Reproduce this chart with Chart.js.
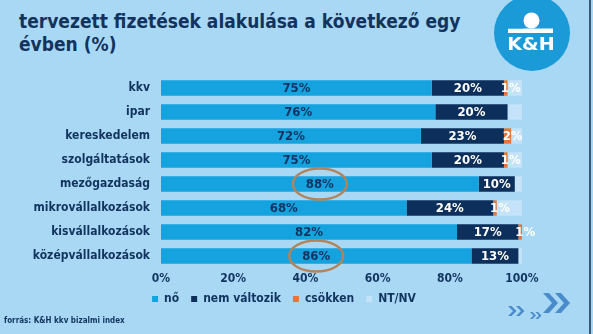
<!DOCTYPE html>
<html lang="hu">
<head>
<meta charset="UTF-8">
<title>tervezett fizetések alakulása</title>
<style>
  body { margin: 0; width: 593px; height: 334px; overflow: hidden; position: relative;
         background: #a8d8f4; color: #13335f; font-family: "DejaVu Sans Condensed", "DejaVu Sans", sans-serif; }
  .cim { position: absolute; left: 19px; top: 10px; font-size: 19px; line-height: 23px; font-weight: bold; }
  .forras { position: absolute; left: 4px; top: 316px; font-size: 8px; font-weight: bold; }
  .keret { position: absolute; left: 589px; top: 0; width: 2px; height: 334px; background: #3b5877; }
  #grafikon { position: absolute; left: 0; top: 0; }
</style>
</head>
<body>
<div class="cim">tervezett fizetések alakulása a következő egy<br>évben (%)</div>
<canvas id="grafikon" width="593" height="334"></canvas>
<div class="forras">forrás: K&amp;H kkv bizalmi index</div>
<div class="keret"></div>

<script src="https://cdn.jsdelivr.net/npm/chart.js"></script>
<script>
const kategoriak = ['kkv', 'ipar', 'kereskedelem', 'szolgáltatások', 'mezőgazdaság',
                    'mikrovállalkozások', 'kisvállalkozások', 'középvállalkozások'];
const no = [75, 76, 72, 75, 88, 68, 82, 86];
const nemValtozik = [20, 20, 23, 20, 10, 24, 17, 13];
const csokken = [1, 0, 2, 1, 0, 1, 1, 0];
const ntnv = [4, 4, 3, 4, 2, 7, 0, 1];
const tickek = [0, 20, 40, 60, 80, 100];
// bekarikázott sorok
const kiemelt = ['mezőgazdaság', 'középvállalkozások'];

const sotet = '#13335f';
Chart.defaults.font.family = '"DejaVu Sans Condensed", "DejaVu Sans", sans-serif';
Chart.defaults.font.weight = 'bold';

// százalékok a szakaszok közepén + karikák
const cimkek = {
  id: 'cimkek',
  afterDatasetsDraw(chart) {
    const c = chart.ctx;
    c.save();
    c.font = 'bold 13px "DejaVu Sans Condensed", "DejaVu Sans"';
    c.textAlign = 'center';
    c.textBaseline = 'middle';
    [0, 1, 2].forEach(d => {
      chart.getDatasetMeta(d).data.forEach((bar, i) => {
        const v = chart.data.datasets[d].data[i];
        if (!v) return;
        const x = (bar.x + bar.base) / 2 + (d === 2 ? 5 : 0);
        c.fillStyle = d === 0 ? sotet : '#ffffff';
        c.fillText(v + '%', x, bar.y + 1);
      });
    });
    c.strokeStyle = '#b3835a';
    c.lineWidth = 2.5;
    kiemelt.forEach(nev => {
      const bar = chart.getDatasetMeta(0).data[kategoriak.indexOf(nev)];
      c.beginPath();
      c.ellipse((bar.x + bar.base) / 2, bar.y, 27, 15.5, 0, 0, Math.PI * 2);
      c.stroke();
    });
    c.restore();
  }
};

// jelmagyarázat helye
const jelmagyarazat = {
  id: 'jelmagyarazat',
  afterLayout(chart) {
    const lg = chart.legend;
    const dx = 284 - (lg.left + lg.right) / 2;
    lg.left += dx; lg.right += dx;
    const top = 299 - lg.options.labels.padding - 6;
    lg.bottom += top - lg.top; lg.top = top;
  }
};

function chevron(c, x, y, h, w, t) {
  c.beginPath();
  c.moveTo(x, y); c.lineTo(x + t, y); c.lineTo(x + t + w, y + h / 2);
  c.lineTo(x + t, y + h); c.lineTo(x, y + h); c.lineTo(x + w, y + h / 2);
  c.closePath(); c.fill();
}

// logó és nyilak
const dekor = {
  id: 'dekor',
  afterDraw(chart) {
    const c = chart.ctx;
    c.save();
    c.fillStyle = '#1b9ad8';
    c.beginPath(); c.arc(532, 33, 38, 0, Math.PI * 2); c.fill();
    c.fillStyle = '#ffffff';
    c.beginPath(); c.arc(531.5, 20.5, 8, 0, Math.PI * 2); c.fill();
    c.fillRect(508, 28.5, 45, 4.5);
    c.fillStyle = '#1b9ad8';
    c.fillRect(508, 26.5, 15, 2);
    c.fillStyle = '#ffffff';
    c.font = 'bold 17px "DejaVu Sans", sans-serif';
    c.textAlign = 'center';
    c.textBaseline = 'alphabetic';
    c.translate(531, 50);
    c.scale(1.12, 1);
    c.fillText('K&H', 0, 0);
    c.setTransform(1, 0, 0, 1, 0, 0);
    c.fillStyle = '#4a8ccb';
    chevron(c, 543, 293, 20, 9, 6);
    chevron(c, 555, 293, 20, 9, 6);
    chevron(c, 508, 306, 10, 5, 3.5);
    chevron(c, 516, 306, 10, 5, 3.5);
    chevron(c, 530, 312, 7, 3.5, 2.5);
    chevron(c, 535.5, 312, 7, 3.5, 2.5);
    c.restore();
  }
};

const ctx = document.getElementById('grafikon');
new Chart(ctx, {
  type: 'bar',
  data: {
    labels: kategoriak,
    datasets: [
      { label: 'nő', data: no, backgroundColor: '#15a3e0' },
      { label: 'nem változik', data: nemValtozik, backgroundColor: '#0d2f5c' },
      { label: 'csökken', data: csokken, backgroundColor: '#e2773a' },
      { label: 'NT/NV', data: ntnv, backgroundColor: '#c4e3f8' }
    ]
  },
  options: {
    indexAxis: 'y',
    responsive: false,
    animation: false,
    barPercentage: 0.64,
    categoryPercentage: 1,
    layout: { padding: { top: 76, right: 71, bottom: 10, left: 0 } },
    scales: {
      x: {
        stacked: true, min: 0, max: 100,
        grid: { display: false, drawTicks: false }, border: { display: false },
        afterBuildTicks: s => { s.ticks = tickek.map(v => ({ value: v })); },
        afterFit: s => { s.height = 22; },
        ticks: { color: sotet, font: { size: 12 }, padding: 4, callback: v => v + '%' }
      },
      y: {
        stacked: true,
        grid: { display: false, drawTicks: false }, border: { display: false },
        afterFit: s => { s.width = 161; },
        ticks: { color: sotet, font: { size: 12 }, padding: 11 }
      }
    },
    plugins: {
      legend: {
        position: 'bottom',
        labels: { boxWidth: 6, boxHeight: 6, color: sotet, font: { size: 12 }, padding: 12 }
      },
      tooltip: { enabled: false }
    }
  },
  plugins: [cimkek, jelmagyarazat, dekor]
});
</script>
</body>
</html>
